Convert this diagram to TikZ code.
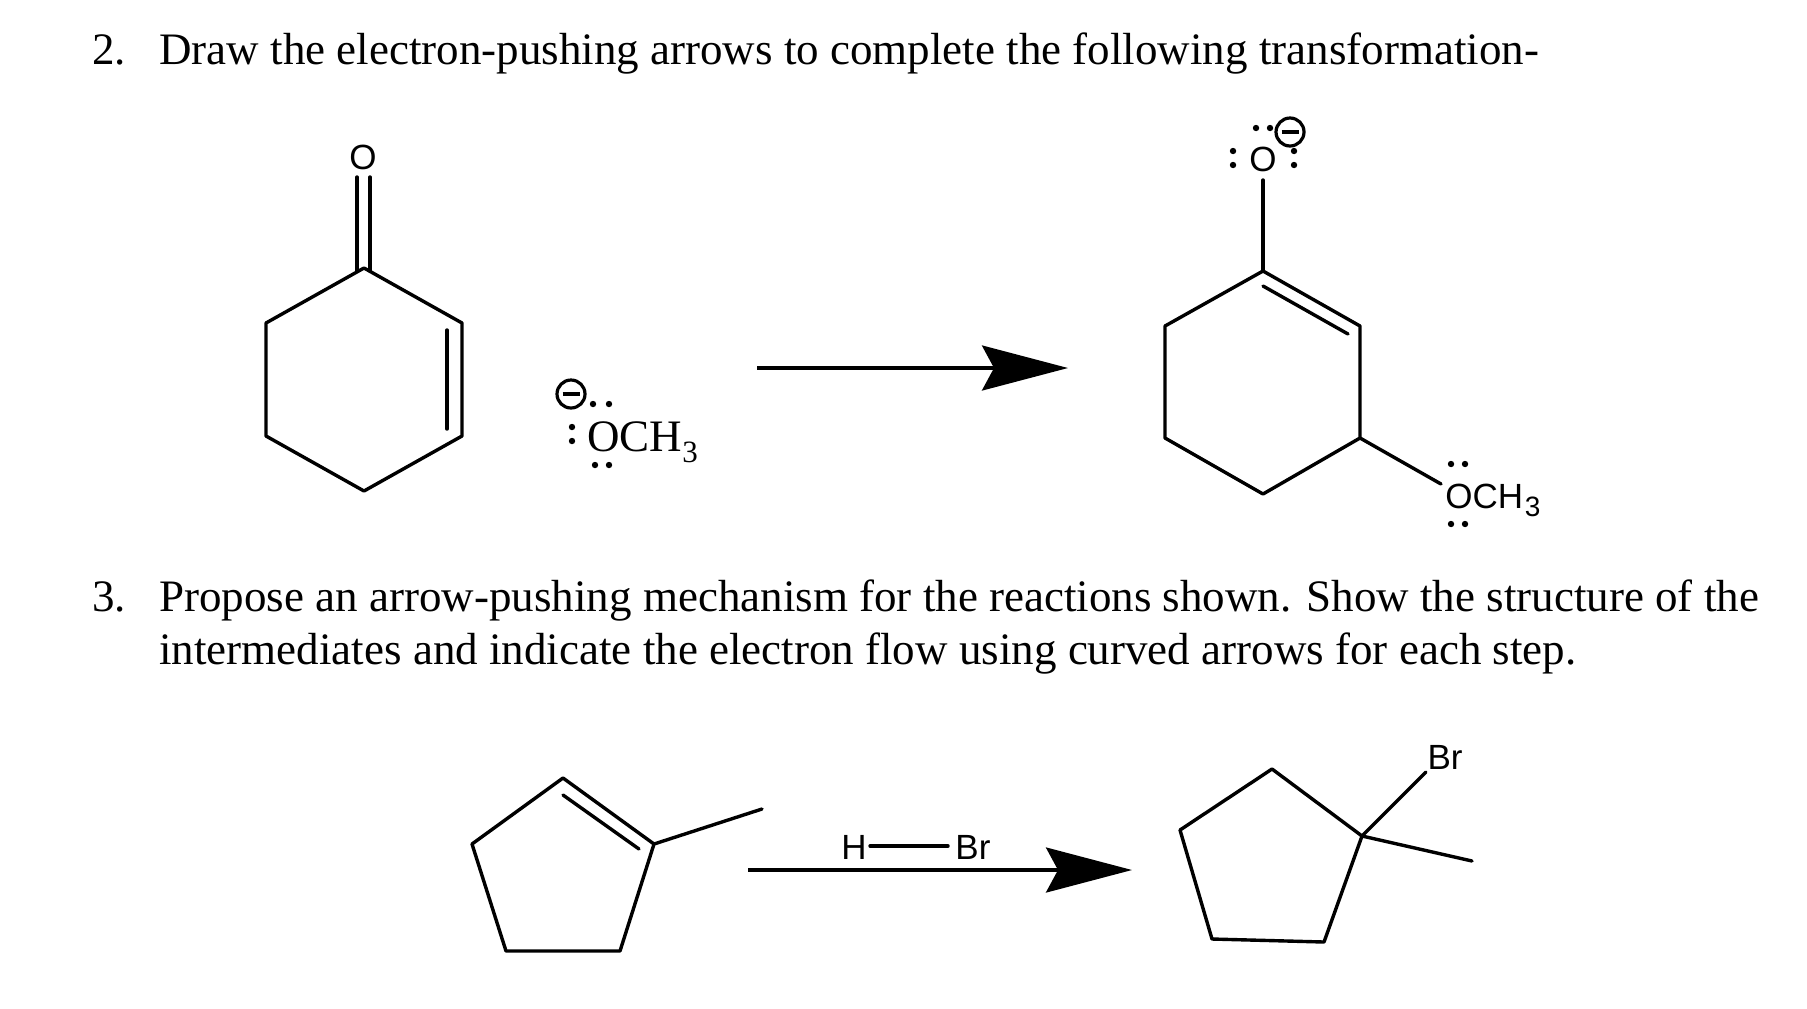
\documentclass[tikz,border=0pt]{standalone}
\usepackage{fontspec}
\setmainfont{Liberation Serif}
\setsansfont{Liberation Sans}
\usetikzlibrary{arrows.meta}
\tikzset{
 bond/.style = {line width=1.7pt, line cap=round, line join=round},
 rxnarrow/.style = {line width=1.7pt, -{Stealth[length=43pt,width=22.5pt,inset=6pt]}},
 question/.style = {anchor=base west, inner sep=0pt, font=\fontsize{22.5}{26}\selectfont},
 atom/.style = {inner sep=0pt, font=\sffamily\fontsize{17.5}{20}\selectfont},
 charge/.style = {circle, draw, line width=1.6pt, minimum size=14pt, inner sep=0pt},
 lonedot/.style = {circle, fill, inner sep=0pt, minimum size=3.2pt}
}
\newcommand{\minusbar}{\rule[0pt]{8.5pt}{1.6pt}}
\newcommand{\serifthree}{\raisebox{-5.5pt}{\fontsize{15.5}{16}\selectfont 3}}
\newcommand{\sansthree}{\kern0.8pt\raisebox{-4pt}{\fontsize{14}{16}\selectfont 3}}
\begin{document}
\begin{tikzpicture} [x=0.5pt, y=-0.5pt]
 \useasboundingbox (0,0) rectangle (1807,1008);
 % question text
 \node (numtwo) [question] at (92,64) {2.};
 \node (linetwo) [question] at (159,64) {Draw the electron-pushing arrows to complete the following transformation-};
 \node (numthree) [question] at (92,611) {3.};
 \node (linethree) [question] at (159,611) {Propose an arrow-pushing mechanism for the reactions shown. Show the structure of the};
 \node (linefour) [question] at (159,664) {intermediates and indicate the electron flow using curved arrows for each step.};

 % first ring, left
 \coordinate (a1) at (364,268);
 \coordinate (a2) at (462,323);
 \coordinate (a3) at (462,436);
 \coordinate (a4) at (364,491);
 \coordinate (a5) at (266,436);
 \coordinate (a6) at (266,323);
 \draw [bond] (a1) -- (a2) -- (a3) -- (a4) -- (a5) -- (a6) -- cycle;
 \coordinate (a2in) at (447,330);
 \coordinate (a3in) at (447,429);
 \draw [bond] (a2in) -- (a3in);
 \node (oxoa) [atom] at (363,157) {O};
 \coordinate (oxol) at (357,177);
 \coordinate (oxor) at (370,177);
 \coordinate (a1l) at (357,271);
 \coordinate (a1r) at (370,271);
 \draw [bond] (oxol) -- (a1l);
 \draw [bond] (oxor) -- (a1r);

 % methoxide
 \node (minusa) [charge] at (571,394) {\minusbar};
 \node (meo) [anchor=base west, inner sep=0pt, font=\fontsize{22.5}{26}\selectfont] at (587,451) {OCH\serifthree};
 \foreach \p in {(593,404),(609,404),(572,427),(572,441),(595,465),(609,465)}
  \node [lonedot] at \p {};

 % first arrow
 \coordinate (arrowastart) at (757,368);
 \coordinate (arrowaend) at (1068,368);
 \draw [rxnarrow] (arrowastart) -- (arrowaend);

 % second ring, right
 \coordinate (b1) at (1263,271);
 \coordinate (b2) at (1360,326);
 \coordinate (b3) at (1360,438);
 \coordinate (b4) at (1263,494);
 \coordinate (b5) at (1165,438);
 \coordinate (b6) at (1165,326);
 \draw [bond] (b1) -- (b2) -- (b3) -- (b4) -- (b5) -- (b6) -- cycle;
 \coordinate (b1in) at (1263,286);
 \coordinate (b2in) at (1348,334);
 \draw [bond] (b1in) -- (b2in);
 \node (oxob) [atom] at (1263,159) {O};
 \coordinate (oxobot) at (1263,180);
 \draw [bond] (oxobot) -- (b1);
 \foreach \p in {(1256,128),(1270,128),(1233,151),(1233,165),(1294,151),(1294,165)}
  \node [lonedot] at \p {};
 \node (minusb) [charge] at (1290,132) {\minusbar};
 \node (meob) [atom, anchor=base west] at (1445,508) {OCH\sansthree};
 \coordinate (meobend) at (1441,484);
 \draw [bond] (b3) -- (meobend);
 \foreach \p in {(1451,464),(1465,464),(1451,524),(1465,524)}
  \node [lonedot] at \p {};

 % third ring, bottom left
 \coordinate (c1) at (563,778);
 \coordinate (c2) at (654,844);
 \coordinate (c3) at (620,951);
 \coordinate (c4) at (506,951);
 \coordinate (c5) at (472,844);
 \draw [bond] (c1) -- (c2) -- (c3) -- (c4) -- (c5) -- cycle;
 \coordinate (c1in) at (563,795);
 \coordinate (c2in) at (639,849);
 \draw [bond] (c1in) -- (c2in);
 \coordinate (cme) at (762,809);
 \draw [bond] (c2) -- (cme);

 % second arrow with reagent
 \coordinate (arrowbstart) at (748,870);
 \coordinate (arrowbend) at (1132,870);
 \draw [rxnarrow] (arrowbstart) -- (arrowbend);
 \node (hyd) [atom] at (854,847) {H};
 \node (brom) [atom, anchor=west] at (955,847) {Br};
 \draw [bond] (hyd) ++(16,-1) -- (948,846);

 % fourth ring, bottom right
 \coordinate (d1) at (1272,769);
 \coordinate (d2) at (1362,836);
 \coordinate (d3) at (1324,942);
 \coordinate (d4) at (1212,939);
 \coordinate (d5) at (1180,830);
 \draw [bond] (d1) -- (d2) -- (d3) -- (d4) -- (d5) -- cycle;
 \node (bromd) [atom] at (1445,757) {Br};
 \coordinate (bromend) at (1426,772);
 \coordinate (dme) at (1472,861);
 \draw [bond] (d2) -- (bromend);
 \draw [bond] (d2) -- (dme);
\end{tikzpicture}
\end{document}
